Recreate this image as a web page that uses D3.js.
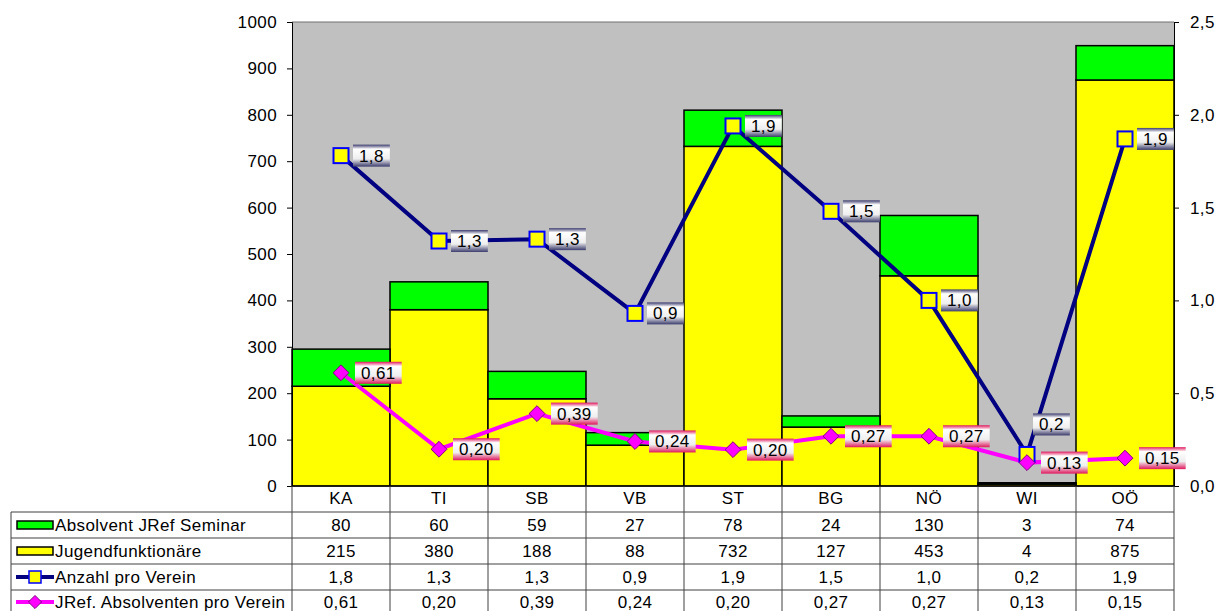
<!DOCTYPE html>
<html>
<head>
<meta charset="utf-8">
<script src="https://cdn.jsdelivr.net/npm/d3@7"></script>
<style>
  body { margin: 0; background: #fff; }
  svg text { font-family: "Liberation Sans", Arial, sans-serif; }
</style>
</head>
<body>
<div id="chart"></div>
<script>
// values
const categories = ["KA", "TI", "SB", "VB", "ST", "BG", "NÖ", "WI", "OÖ"];
const absolventen = [80, 60, 59, 27, 78, 24, 130, 3, 74];
const jugendfunktionaere = [215, 380, 188, 88, 732, 127, 453, 4, 875];
const anzahlProVerein = [1.78, 1.32, 1.33, 0.93, 1.94, 1.48, 1.0, 0.17, 1.87];
const absolventenProVerein = [0.61, 0.198, 0.39, 0.24, 0.196, 0.268, 0.268, 0.126, 0.15];
const leftTicks = [0, 100, 200, 300, 400, 500, 600, 700, 800, 900, 1000];
const rightTicks = [0, 0.5, 1.0, 1.5, 2.0, 2.5];
const seriesNames = ["Absolvent JRef Seminar", "Jugendfunktionäre", "Anzahl pro Verein", "JRef. Absolventen pro Verein"];

const width = 1229, height = 611;
const plot = { left: 292, right: 1174, top: 22, bottom: 486 };
const fontSize = "17px", spacing = "0.4px";

const comma = f => v => d3.format(f)(v).replace(".", ",");
const fmt1 = comma(".1f"), fmt2 = comma(".2f");

const svg = d3.select("#chart").append("svg")
    .attr("width", width)
    .attr("height", height);

const defs = svg.append("defs");
function gradient(id, edge) {
    const g = defs.append("linearGradient").attr("id", id)
        .attr("x1", 0).attr("y1", 0).attr("x2", 0).attr("y2", 1);
    g.append("stop").attr("offset", "0%").attr("stop-color", edge);
    g.append("stop").attr("offset", "20%").attr("stop-color", "#ffffff");
    g.append("stop").attr("offset", "65%").attr("stop-color", "#eeeeee");
    g.append("stop").attr("offset", "100%").attr("stop-color", edge);
}
gradient("navyGrad", "#3c3c6e");
gradient("pinkGrad", "#e0185e");

const x = d3.scaleBand().domain(categories).range([plot.left, plot.right]).padding(0);
const y = d3.scaleLinear().domain([0, 1000]).range([plot.bottom, plot.top]);
const y2 = d3.scaleLinear().domain([0, 2.5]).range([plot.bottom, plot.top]);

// plot background
svg.append("rect")
    .attr("x", plot.left).attr("y", plot.top)
    .attr("width", plot.right - plot.left).attr("height", plot.bottom - plot.top)
    .attr("fill", "#c0c0c0");
svg.append("line")
    .attr("x1", plot.left).attr("x2", plot.right)
    .attr("y1", plot.top).attr("y2", plot.top)
    .attr("stroke", "#707070");

// stacked bars
const stack = categories.map((c, i) => ({ c, j: jugendfunktionaere[i], a: absolventen[i] }));
const bars = svg.append("g");
bars.selectAll(".yellow").data(stack).enter().append("rect")
    .attr("x", d => x(d.c)).attr("width", x.bandwidth())
    .attr("y", d => y(d.j)).attr("height", d => y(0) - y(d.j))
    .attr("fill", "#ffff00").attr("stroke", "#000").attr("stroke-width", 1.5);
bars.selectAll(".green").data(stack).enter().append("rect")
    .attr("x", d => x(d.c)).attr("width", x.bandwidth())
    .attr("y", d => y(d.j + d.a)).attr("height", d => y(d.j) - y(d.j + d.a))
    .attr("fill", "#00ff00").attr("stroke", "#000").attr("stroke-width", 1.5);

// axes
const axisL = svg.append("g")
    .attr("transform", `translate(${plot.left},0)`)
    .call(d3.axisLeft(y).tickValues(leftTicks).tickFormat(d3.format("d")).tickSize(5).tickPadding(10));
const axisR = svg.append("g")
    .attr("transform", `translate(${plot.right},0)`)
    .call(d3.axisRight(y2).tickValues(rightTicks).tickSize(5).tickFormat(fmt1).tickPadding(11));
[axisL, axisR].forEach(a => {
    a.selectAll("text").style("font-size", fontSize).style("letter-spacing", spacing).attr("fill", "#000");
    a.select(".domain").attr("stroke", "#000");
});
svg.append("line")
    .attr("x1", plot.left).attr("x2", plot.right)
    .attr("y1", plot.bottom).attr("y2", plot.bottom)
    .attr("stroke", "#000");

// lines
const cx = c => x(c) + x.bandwidth() / 2;
const line = d3.line().x(d => cx(d.c)).y(d => y2(d.v));
const anzahl = categories.map((c, i) => ({ c, v: anzahlProVerein[i] }));
const jref = categories.map((c, i) => ({ c, v: absolventenProVerein[i] }));

svg.append("path").datum(anzahl).attr("d", line)
    .attr("fill", "none").attr("stroke", "#000080").attr("stroke-width", 4);
svg.append("path").datum(jref).attr("d", line)
    .attr("fill", "none").attr("stroke", "#ff00ff").attr("stroke-width", 4);

svg.selectAll(".sq").data(anzahl).enter().append("rect")
    .attr("x", d => cx(d.c) - 7.5).attr("y", d => y2(d.v) - 7.5)
    .attr("width", 15).attr("height", 15)
    .attr("fill", "#ffff00").attr("stroke", "#0000ff").attr("stroke-width", 2);
svg.selectAll(".dm").data(jref).enter().append("path")
    .attr("d", d3.symbol().type(d3.symbolDiamond2).size(160))
    .attr("transform", d => `translate(${cx(d.c)},${y2(d.v)})`)
    .attr("fill", "#ff00ff").attr("stroke", "#800080").attr("stroke-width", 1);

// data labels
function labels(data, fmt, grad, shift) {
    const g = svg.append("g").selectAll("g").data(data).enter().append("g")
        .attr("transform", (d, i) => {
            const s = shift(d, i);
            return `translate(${cx(d.c) + s[0]},${y2(d.v) + s[1]})`;
        });
    g.append("rect");
    const text = g.append("text")
        .attr("y", 6)
        .attr("text-anchor", "middle")
        .style("font-size", fontSize)
        .style("letter-spacing", spacing)
        .text(d => fmt(d.v));
    text.each(function () {
        const w = this.getComputedTextLength() + 12;
        d3.select(this).attr("x", w / 2);
        d3.select(this.parentNode).select("rect")
            .attr("x", 0).attr("y", -11).attr("width", w).attr("height", 22)
            .attr("fill", `url(#${grad})`);
    });
}
labels(anzahl, fmt1, "navyGrad", d => d.c === "WI" ? [6, -30] : [12, 0]);
labels(jref, fmt2, "pinkGrad", () => [14, 0]);

// data table
const rowY = [498, 525, 551, 577, 602];
const rowLines = [512, 538, 564, 590];
const table = svg.append("g");
const tableLine = "#404040";
categories.forEach(c => {
    table.append("line")
        .attr("x1", x(c)).attr("x2", x(c))
        .attr("y1", plot.bottom).attr("y2", height)
        .attr("stroke", tableLine);
});
table.append("line")
    .attr("x1", plot.right).attr("x2", plot.right)
    .attr("y1", plot.bottom).attr("y2", height).attr("stroke", tableLine);
table.append("line")
    .attr("x1", 11).attr("x2", 11)
    .attr("y1", rowLines[0]).attr("y2", height).attr("stroke", tableLine);
rowLines.forEach(t => {
    table.append("line")
        .attr("x1", 11).attr("x2", plot.right)
        .attr("y1", t).attr("y2", t).attr("stroke", tableLine);
});

const rows = [
    categories,
    absolventen.map(String),
    jugendfunktionaere.map(String),
    anzahlProVerein.map(fmt1),
    absolventenProVerein.map(fmt2)
];
rows.forEach((vals, r) => {
    table.selectAll(null).data(vals).enter().append("text")
        .attr("x", (d, i) => cx(categories[i]))
        .attr("y", rowY[r] + 6)
        .attr("text-anchor", "middle")
        .style("font-size", fontSize)
        .style("letter-spacing", spacing)
        .text(d => d);
});

// legend keys in the table
seriesNames.forEach((name, i) => {
    table.append("text")
        .attr("x", 55).attr("y", rowY[i + 1] + 6)
        .style("font-size", fontSize)
        .style("letter-spacing", spacing)
        .text(name);
});
const k = table.append("g");
k.append("rect").attr("x", 17).attr("y", rowY[1] - 4).attr("width", 36).attr("height", 8)
    .attr("fill", "#00ff00").attr("stroke", "#000").attr("stroke-width", 1.5);
k.append("rect").attr("x", 17).attr("y", rowY[2] - 4).attr("width", 36).attr("height", 8)
    .attr("fill", "#ffff00").attr("stroke", "#000").attr("stroke-width", 1.5);
k.append("line").attr("x1", 16).attr("x2", 54).attr("y1", rowY[3]).attr("y2", rowY[3])
    .attr("stroke", "#000080").attr("stroke-width", 4);
k.append("rect").attr("x", 29).attr("y", rowY[3] - 6).attr("width", 12).attr("height", 12)
    .attr("fill", "#ffff00").attr("stroke", "#0000ff").attr("stroke-width", 1.5);
k.append("line").attr("x1", 16).attr("x2", 54).attr("y1", rowY[4]).attr("y2", rowY[4])
    .attr("stroke", "#ff00ff").attr("stroke-width", 4);
k.append("path").attr("d", d3.symbol().type(d3.symbolDiamond2).size(110))
    .attr("transform", `translate(35,${rowY[4]})`)
    .attr("fill", "#ff00ff").attr("stroke", "#800080");
</script>
</body>
</html>
